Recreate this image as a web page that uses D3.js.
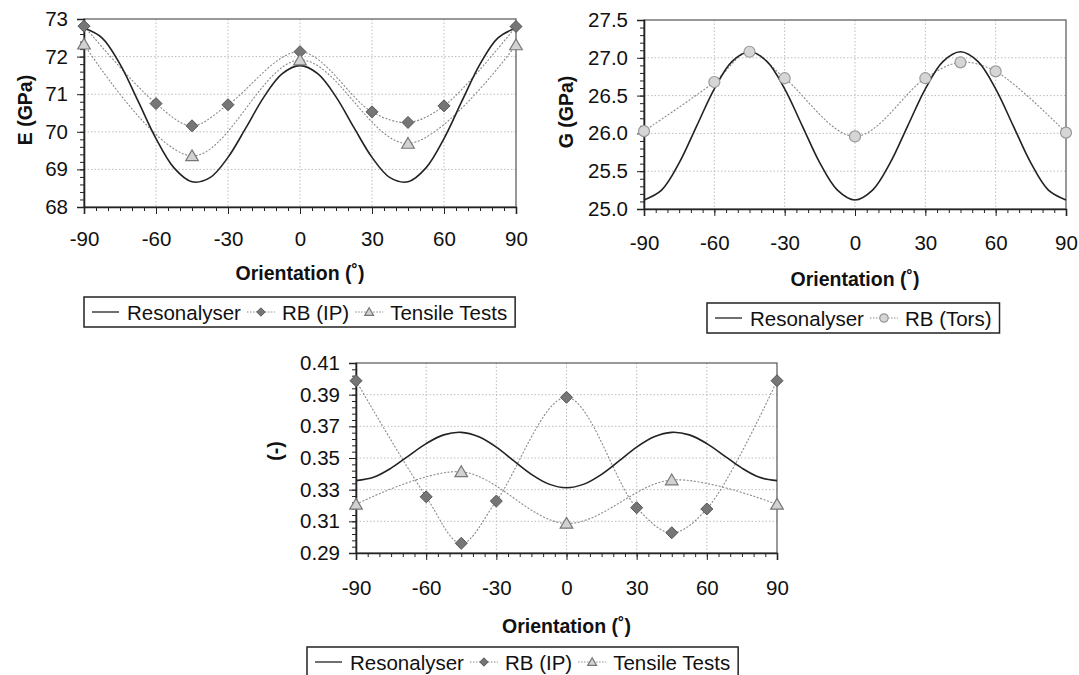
<!DOCTYPE html>
<html>
<head>
<meta charset="utf-8">
<style>
    body { margin: 0; background: #fff; }
    svg { font-family: Arial, 'Liberation Sans', sans-serif; display: block; }
    .tick text { font-size: 20.5px; fill: #111; }
    .axis-title { font-size: 19.5px; font-weight: bold; fill: #111; }
    .legend text { font-size: 20.5px; fill: #111; }
</style>
</head>
<body>
<svg width="1079" height="675"></svg>

<script src="https://d3js.org/d3.v7.min.js"></script>
<script>
    // orientation angles
    const xTicks = [-90, -60, -30, 0, 30, 60, 90];
    const angles = [-90, -82.5, -75, -67.5, -60, -52.5, -45, -37.5, -30, -22.5, -15, -7.5, 0,
        7.5, 15, 22.5, 30, 37.5, 45, 52.5, 60, 67.5, 75, 82.5, 90];
    const rbAngles = [-90, -60, -45, -30, 0, 30, 45, 60, 90];
    const tensileAngles = [-90, -45, 0, 45, 90];

    // E (GPa)
    const eTicks = [68, 69, 70, 71, 72, 73];
    const eResonalyser = [72.76, 72.50, 71.80, 70.82, 69.82, 69.04, 68.67, 68.78, 69.32, 70.11, 70.93, 71.54, 71.76,
        71.54, 70.93, 70.11, 69.32, 68.78, 68.67, 69.04, 69.82, 70.82, 71.80, 72.50, 72.76];
    const eRbIp = [72.81, 70.75, 70.16, 70.72, 72.13, 70.53, 70.25, 70.69, 72.80];
    const eTensile = [72.33, 69.36, 71.91, 69.69, 72.31];

    // G (GPa)
    const gTicks = [25.0, 25.5, 26.0, 26.5, 27.0, 27.5];
    const gResonalyser = [25.12, 25.25, 25.61, 26.10, 26.59, 26.95, 27.08, 26.95, 26.59, 26.10, 25.61, 25.25, 25.12,
        25.25, 25.61, 26.10, 26.59, 26.95, 27.08, 26.95, 26.59, 26.10, 25.61, 25.25, 25.12];
    const gRbTors = [26.03, 26.68, 27.08, 26.73, 25.96, 26.73, 26.94, 26.82, 26.01];

    // Poisson ratio (-)
    const nuTicks = [0.29, 0.31, 0.33, 0.35, 0.37, 0.39, 0.41];
    const nuResonalyser = [0.3357, 0.3378, 0.3436, 0.3514, 0.3591, 0.3646, 0.3662, 0.3634, 0.3569, 0.3482, 0.3397, 0.3335, 0.3312,
        0.3335, 0.3397, 0.3482, 0.3569, 0.3634, 0.3662, 0.3646, 0.3591, 0.3514, 0.3436, 0.3378, 0.3357];
    const nuRbIp = [0.3988, 0.3255, 0.2961, 0.3228, 0.3883, 0.3186, 0.3028, 0.3178, 0.3988];
    const nuTensile = [0.3207, 0.3413, 0.3087, 0.3361, 0.3207];

    let svg = d3.select("svg");

    function marker(sel, type, size) {
        if (type == "diamond") {
            sel.append("path")
                .attr("d", `M0,${-size}L${size},0L0,${size}L${-size},0Z`)
                .attr("fill", "#767676").attr("stroke", "#555").attr("stroke-width", 1);
        } else if (type == "triangle") {
            sel.append("path")
                .attr("d", `M0,${-size}L${size * 1.05},${size * 0.8}L${-size * 1.05},${size * 0.8}Z`)
                .attr("fill", "#d2d2d2").attr("stroke", "#777").attr("stroke-width", 1.2);
        } else if (type == "circle") {
            sel.append("circle").attr("r", size)
                .attr("fill", "#d6d6d6").attr("stroke", "#999").attr("stroke-width", 1.2);
        }
    }

    function panel(p) {
        let x = d3.scaleLinear().domain([-90, 90]).range([p.left, p.right]);
        let y = d3.scaleLinear().domain([p.yTicks[0], p.yTicks[p.yTicks.length - 1]]).range([p.bottom, p.top]);
        let g = svg.append("g");

        // grid
        g.append("g").selectAll("line")
            .data(p.yTicks.slice(1, -1))
            .join("line")
            .attr("x1", p.left).attr("x2", p.right)
            .attr("y1", d => y(d)).attr("y2", d => y(d))
            .attr("stroke", "#bdbdbd").attr("stroke-dasharray", "1.5,2");
        g.append("g").selectAll("line")
            .data(xTicks.slice(1, -1))
            .join("line")
            .attr("y1", p.top).attr("y2", p.bottom)
            .attr("x1", d => x(d)).attr("x2", d => x(d))
            .attr("stroke", "#bdbdbd").attr("stroke-dasharray", "1.5,2");

        // frame
        g.append("rect")
            .attr("x", p.left).attr("y", p.top)
            .attr("width", p.right - p.left).attr("height", p.bottom - p.top)
            .attr("fill", "none").attr("stroke", "#555").attr("stroke-width", 1.2);

        // x axis, minor then major
        g.append("g").attr("transform", `translate(0,${p.bottom})`)
            .call(d3.axisBottom(x).tickValues(d3.range(-90, 91, 5)).tickSize(4).tickFormat(""))
            .call(a => a.select(".domain").remove());
        let xa = g.append("g").attr("transform", `translate(0,${p.bottom})`)
            .call(d3.axisBottom(x).tickValues(xTicks).tickSize(7).tickPadding(p.xPad).tickFormat(d => String(d)));
        xa.select(".domain").attr("stroke", "#222").attr("stroke-width", 1.6);

        // y axis, minor then major
        g.append("g").attr("transform", `translate(${p.left},0)`)
            .call(d3.axisLeft(y).tickValues(d3.range(p.yTicks[0], p.yTicks[p.yTicks.length - 1] + p.minor / 2, p.minor)).tickSize(4).tickFormat(""))
            .call(a => a.select(".domain").remove());
        let ya = g.append("g").attr("transform", `translate(${p.left},0)`)
            .call(d3.axisLeft(y).tickValues(p.yTicks).tickSize(7).tickPadding(9).tickFormat(d3.format(p.fmt)));
        ya.select(".domain").attr("stroke", "#222").attr("stroke-width", 1.6);
        g.selectAll(".tick line").attr("stroke", "#222");
        g.selectAll(".tick text").attr("font-family", null).attr("font-size", null);

        // titles
        g.append("text").attr("class", "axis-title")
            .attr("transform", `translate(${p.yTitleX},${p.yTitleY}) rotate(-90)`)
            .attr("text-anchor", "middle").attr("dominant-baseline", "central")
            .text(p.yTitle);
        g.append("text").attr("class", "axis-title")
            .attr("x", (p.left + p.right) / 2).attr("y", p.xTitleY)
            .attr("text-anchor", "middle").attr("dominant-baseline", "central")
            .text("Orientation (˚)");

        // series
        let smooth = d3.line().x(d => x(d[0])).y(d => y(d[1])).curve(d3.curveCatmullRom.alpha(0.5));

        p.series.filter(s => s.type != "line").forEach(s => {
            g.append("path")
                .datum(d3.zip(s.x, s.y))
                .attr("d", smooth)
                .attr("fill", "none").attr("stroke", "#8a8a8a")
                .attr("stroke-width", 1.1).attr("stroke-dasharray", "2,1.6");
        });
        p.series.filter(s => s.type == "line").forEach(s => {
            g.append("path")
                .datum(d3.zip(s.x, s.y))
                .attr("d", smooth)
                .attr("fill", "none").attr("stroke", "#222").attr("stroke-width", 1.6);
        });
        p.series.filter(s => s.type != "line").forEach(s => {
            g.append("g").selectAll("g")
                .data(d3.zip(s.x, s.y))
                .join("g")
                .attr("transform", d => `translate(${x(d[0])},${y(d[1])})`)
                .each(function () { marker(d3.select(this), s.type, s.type == "circle" ? 5.5 : 6); });
        });

        // legend
        let lg = g.append("g").attr("class", "legend").attr("transform", `translate(${p.legendX},${p.legendY})`);
        let box = lg.append("rect").attr("height", 30).attr("fill", "#fff").attr("stroke", "#222").attr("stroke-width", 1.5);
        let cx = 8;
        p.series.forEach((s, i) => {
            if (i > 0) cx += 6;
            if (s.type == "line") {
                lg.append("line").attr("x1", cx).attr("x2", cx + 27).attr("y1", 15).attr("y2", 15)
                    .attr("stroke", "#222").attr("stroke-width", 1.3);
            } else {
                lg.append("line").attr("x1", cx).attr("x2", cx + 28).attr("y1", 15).attr("y2", 15)
                    .attr("stroke", "#8a8a8a").attr("stroke-width", 1).attr("stroke-dasharray", "1.5,1.5");
                let m = lg.append("g").attr("transform", `translate(${cx + 14},15)`);
                marker(m, s.type, 4.2);
            }
            cx += 28 + 7;
            let t = lg.append("text").attr("x", cx).attr("y", 15).attr("dominant-baseline", "central").text(s.label);
            cx += t.node().getComputedTextLength();
        });
        box.attr("width", cx + 8);
    }

    panel({
        left: 84, right: 516, top: 19, bottom: 207,
        yTicks: eTicks, minor: 0.2, fmt: "d", xPad: 17,
        yTitle: "E (GPa)", yTitleX: 25, yTitleY: 110, xTitleY: 273,
        legendX: 84, legendY: 297,
        series: [
            { label: "Resonalyser", type: "line", x: angles, y: eResonalyser },
            { label: "RB (IP)", type: "diamond", x: rbAngles, y: eRbIp },
            { label: "Tensile Tests", type: "triangle", x: tensileAngles, y: eTensile }
        ]
    });

    panel({
        left: 644, right: 1066, top: 20, bottom: 209,
        yTicks: gTicks, minor: 0.1, fmt: ".1f", xPad: 19,
        yTitle: "G (GPa)", yTitleX: 566, yTitleY: 112, xTitleY: 279,
        legendX: 707, legendY: 303,
        series: [
            { label: "Resonalyser", type: "line", x: angles, y: gResonalyser },
            { label: "RB (Tors)", type: "circle", x: rbAngles, y: gRbTors }
        ]
    });

    panel({
        left: 356, right: 777, top: 363, bottom: 553,
        yTicks: nuTicks, minor: 0.004, fmt: ".2f", xPad: 20,
        yTitle: "(-)", yTitleX: 275, yTitleY: 451, xTitleY: 626,
        legendX: 307, legendY: 647,
        series: [
            { label: "Resonalyser", type: "line", x: angles, y: nuResonalyser },
            { label: "RB (IP)", type: "diamond", x: rbAngles, y: nuRbIp },
            { label: "Tensile Tests", type: "triangle", x: tensileAngles, y: nuTensile }
        ]
    });
</script>
</body>
</html>
